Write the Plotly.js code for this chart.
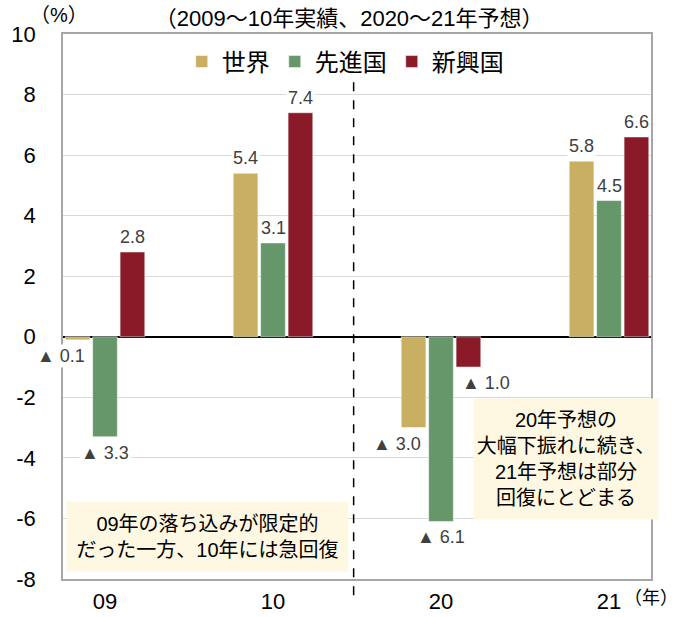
<!DOCTYPE html>
<html>
<head>
<meta charset="utf-8">
<script src="https://cdn.plot.ly/plotly-3.0.1.min.js"></script>
<style>html,body{margin:0;padding:0;background:#fff;}#chart{width:678px;height:617px;}</style>
</head>
<body>
<div id="chart"></div>
<script>
// ---- data ----
const categories = ['09', '10', '20', '21'];
const seriesNames = ['世界', '先進国', '新興国'];
const worldValues = [-0.1, 5.4, -3.0, 5.8];
const advancedValues = [-3.3, 3.1, -6.1, 4.5];
const emergingValues = [2.8, 7.4, -1.0, 6.6];
const yTickValues = [-8, -6, -4, -2, 0, 2, 4, 6, 8, 10];
const chartTitle = '（2009～10年実績、2020～21年予想）';
const note1 = '09年の落ち込みが限定的<br>だった一方、10年には急回復';
const note2 = '20年予想の<br>大幅下振れに続き、<br>21年予想は部分<br>回復にとどまる';

// ---- styles ----
const colors = ['#C9AF62', '#66976A', '#8B1A28'];
const negXShift = [-17, 0, 18];
const FONT = '"Liberation Sans", Arial, "Noto Sans CJK JP", sans-serif';
const bargap = 0.51;
const slot = (1 - bargap) / 3;

const allValues = [worldValues, advancedValues, emergingValues];

const traces = allValues.map((vals, i) => ({
  type: 'bar',
  name: seriesNames[i],
  x: categories,
  y: vals,
  marker: {color: colors[i], line: {color: 'rgba(255,255,255,0.5)', width: 1}},
  hoverinfo: 'x+y+name'
}));

const annotations = [];
allValues.forEach((vals, i) => {
  vals.forEach((v, j) => {
    const neg = v < 0;
    annotations.push({
      xref: 'x', yref: 'y',
      x: j + (i - 1) * slot,
      y: v,
      text: neg ? '▲ ' + Math.abs(v).toFixed(1) : v.toFixed(1),
      showarrow: false,
      yanchor: neg ? 'top' : 'bottom',
      yshift: neg ? -4 : 3,
      xshift: neg ? negXShift[i] : 0,
      bgcolor: '#ffffff',
      borderpad: 1,
      font: {family: FONT, size: 18, color: '#404040'}
    });
  });
});

annotations.push(
  {xref: 'paper', yref: 'paper', x: 0.2457, y: 0.078, xanchor: 'center', yanchor: 'middle',
   text: note1, showarrow: false, width: 279, height: 67, bgcolor: '#FEF7E2',
   font: {family: FONT, size: 20, color: '#000'}, align: 'center'},
  {xref: 'paper', yref: 'paper', x: 0.8546, y: 0.220, xanchor: 'center', yanchor: 'middle',
   text: note2, showarrow: false, width: 182, height: 118, bgcolor: '#FEF7E2',
   font: {family: FONT, size: 20, color: '#000'}, align: 'center'},
  {xref: 'paper', yref: 'paper', x: -0.006, y: 1.0, xanchor: 'center', yanchor: 'bottom', yshift: 6,
   text: '（%）', showarrow: false, font: {family: FONT, size: 20, color: '#000'}},
  {xref: 'paper', yref: 'paper', x: 1.0, y: 0, xanchor: 'center', yanchor: 'top', yshift: -7,
   text: '（年）', showarrow: false, font: {family: FONT, size: 18, color: '#000'}}
);

const layout = {
  width: 678, height: 617,
  margin: {l: 63, r: 27, t: 34, b: 38},
  paper_bgcolor: '#ffffff', plot_bgcolor: '#ffffff',
  font: {family: FONT, color: '#000'},
  title: {text: chartTitle, x: 0.515, xanchor: 'center', y: 0.971, yanchor: 'middle',
          font: {family: FONT, size: 22, color: '#000'}},
  barmode: 'group', bargap: bargap, bargroupgap: 0.1,
  showlegend: true,
  legend: {orientation: 'h', x: 0.48, xanchor: 'center', y: 0.99, yanchor: 'top',
           font: {family: FONT, size: 24, color: '#000'}, itemwidth: 30,
           bgcolor: 'rgba(0,0,0,0)', traceorder: 'normal'},
  xaxis: {type: 'category', range: [-0.25, 3.25], showgrid: false, zeroline: false,
          showline: true, mirror: true, linecolor: '#A6A6A6', linewidth: 1.5,
          ticks: '', tickfont: {family: FONT, size: 22, color: '#000'}, ticklabelstandoff: 2},
  yaxis: {range: [-8, 10], tickvals: yTickValues, ticktext: yTickValues.map(String),
          showgrid: true, gridcolor: '#D9D9D9', gridwidth: 1,
          zeroline: true, zerolinecolor: '#000', zerolinewidth: 1.5,
          showline: true, mirror: true, linecolor: '#A6A6A6', linewidth: 1.5,
          ticks: '', ticklabelstandoff: 21, tickfont: {family: FONT, size: 22, color: '#000'}},
  shapes: [{type: 'line', xref: 'x', yref: 'paper', x0: 1.48, x1: 1.48, y0: -0.03, y1: 0.925,
            line: {color: '#000', width: 1.5, dash: 'dash'}}],
  annotations: annotations
};

Plotly.newPlot('chart', traces, layout, {displayModeBar: false, responsive: false});
</script>
</body>
</html>
